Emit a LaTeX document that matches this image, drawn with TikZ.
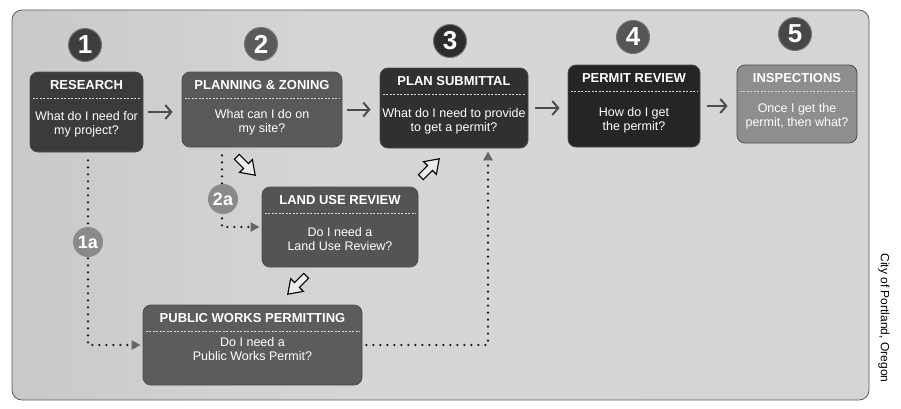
\documentclass[tikz,border=0pt]{standalone}
\usepackage{fontspec}
\setmainfont{Liberation Sans}
\usetikzlibrary{arrows.meta,calc}

% fills
\definecolor{fresearch}{HTML}{3B3B3B}
\definecolor{fplanning}{HTML}{595959}
\definecolor{fsubmit}{HTML}{303030}
\definecolor{freview}{HTML}{252525}
\definecolor{finspect}{HTML}{8E8E8E}
\definecolor{flanduse}{HTML}{545454}
\definecolor{fpublic}{HTML}{5C5C5C}
\definecolor{nOne}{HTML}{3E3E3E}
\definecolor{nTwo}{HTML}{5A5A5A}
\definecolor{nThree}{HTML}{2C2C2C}
\definecolor{nFour}{HTML}{555555}
\definecolor{nFive}{HTML}{474747}
\definecolor{nSub}{HTML}{8A8A8A}

\pgfdeclarehorizontalshading{panelshade}{100bp}{color(0bp)=(gray!55); color(45bp)=(gray!32); color(75bp)=(gray!33); color(100bp)=(gray!42)}

\tikzset{
  panel/.style={shading=panelshade, draw=black!65, line width=0.8pt, rounded corners=10pt},
  pbox/.style={draw=black!70, line width=0.8pt, rounded corners=8pt, inner sep=0pt},
  ptitle/.style={text=white, font=\fontsize{13}{14}\selectfont\bfseries, inner sep=0pt},
  pbody/.style={text=white, font=\fontsize{12.5}{14}\selectfont, align=center, inner sep=0pt},
  sepline/.style={draw=white!70!gray, line width=0.6pt, dash pattern=on 2pt off 1.5pt},
  badge/.style={circle, fill=#1, draw=black!55, line width=1pt, text=white, inner sep=0pt,
    minimum size=33pt, font=\fontsize{26}{26}\selectfont\bfseries},
  subbadge/.style={circle, fill=nSub, draw=black!45, line width=1pt, text=white, inner sep=0pt,
    minimum size=29pt, font=\fontsize{18}{18}\selectfont\bfseries},
  flow/.style={draw=black!70, line width=2pt, -{Straight Barb[length=6pt,width=14pt]}},
  dotflow/.style={draw=black!90, line width=2.6pt, line cap=round, dash pattern=on 0pt off 7pt,
    -{Triangle[length=9pt,width=9pt,color=black!60]}},
  hollow/.style={draw=black, line width=1.1pt, fill=white!92!black, line join=miter},
  hollowarrow/.pic={\path[hollow] (-13,-3.5) -- (0,-3.5) -- (0,-9) -- (13,0) -- (0,9) -- (0,3.5) -- (-13,3.5) -- cycle;},
}

% name, cx, cy, width, height, fill, title, body, body offset from top
\newcommand\procbox[9]{%
  \node[pbox, fill=#6, minimum width=#4pt, minimum height=#5pt] (#1) at (#2,#3) {};
  \node[ptitle] (#1-title) at ([yshift=-13pt]#1.north) {#7};
  \draw[sepline] ([xshift=3pt,yshift=-27pt]#1.north west) -- ([xshift=-3pt,yshift=-27pt]#1.north east);
  \node[pbody] (#1-body) at ([yshift=-#9pt]#1.north) {#8};
}

\begin{document}
\begin{tikzpicture}[x=1pt,y=-1pt]
  \useasboundingbox[fill=white] (0,0) rectangle (901,408);

  % background panel
  \draw[panel] (12,10) rectangle (869,400);

  % step numbers
  \node[badge=nOne]   (n1) at (85,45)  {1};
  \node[badge=nTwo]   (n2) at (261,44) {2};
  \node[badge=nThree] (n3) at (450,41) {3};
  \node[badge=nFour]  (n4) at (633,37) {4};
  \node[badge=nFive]  (n5) at (795,34) {5};

  % process boxes
  \procbox{research}{86.5}{112}{113}{80}{fresearch}{RESEARCH}{What do I need for\\my project?}{53}
  \procbox{planning}{262}{109.5}{160}{75}{fplanning}{PLANNING \& ZONING}{What can I do on\\my site?}{51}
  \procbox{submittal}{454}{108}{148}{80}{fsubmit}{PLAN SUBMITTAL}{What do I need to provide\\to get a permit?}{54}
  \procbox{review}{634}{106}{132}{82}{freview}{PERMIT REVIEW}{How do I get\\the permit?}{56}
  \procbox{inspect}{797}{104}{120}{78}{finspect}{INSPECTIONS}{Once I get the\\permit, then what?}{52}
  \procbox{landuse}{340}{227}{156}{80}{flanduse}{LAND USE REVIEW}{Do I need a\\Land Use Review?}{52}
  \procbox{public}{252.5}{345}{219}{80}{fpublic}{PUBLIC WORKS PERMITTING}{Do I need a\\Public Works Permit?}{44}

  % main sequence
  \draw[flow] ([xshift=5pt]research.east) -- ($(research.east -| planning.west)+(-9,0)$);
  \draw[flow] ([xshift=5pt]planning.east) -- ($(planning.east -| submittal.west)+(-9,0)$);
  \draw[flow] ([xshift=7pt]submittal.east) -- ($(submittal.east -| review.west)+(-8,0)$);
  \draw[flow] ([xshift=7pt]review.east) -- ($(review.east -| inspect.west)+(-9,0)$);

  % side branches
  \draw[dotflow] ([xshift=1.5pt,yshift=-8pt]research.south) |- ([xshift=-2pt]public.west);
  \draw[dotflow] ([xshift=-40pt,yshift=-8pt]planning.south) |- ([xshift=-2pt]landuse.west);
  \draw[dotflow] ([xshift=4pt]public.east) -| ([xshift=34pt,yshift=-3pt]submittal.south);

  \node[subbadge] (n1a) at (88,242)  {1a};
  \node[subbadge] (n2a) at (223,199) {2a};

  % open block arrows
  \pic[rotate=-45]  at (246,166) {hollowarrow};
  \pic[rotate=45]   at (430,168) {hollowarrow};
  \pic[rotate=-135] at (297,285) {hollowarrow};

  % credit line
  \node[rotate=-90, font=\fontsize{12}{12}\selectfont] (credit) at (884,318) {City of Portland, Oregon};
\end{tikzpicture}
\end{document}
